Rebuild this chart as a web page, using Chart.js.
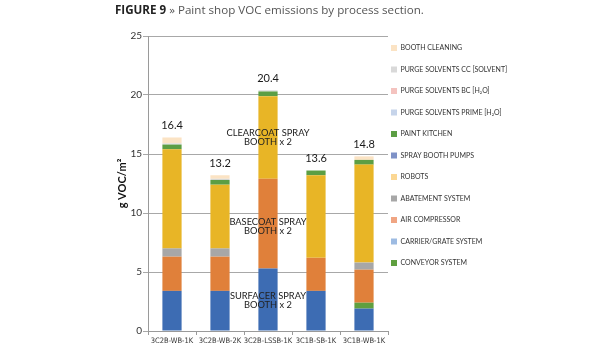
<!DOCTYPE html>
<html>
<head>
<meta charset="utf-8">
<script src="https://cdn.jsdelivr.net/npm/chart.js@4/dist/chart.umd.min.js"></script>
<style>
html,body{margin:0;padding:0;background:#fff;}
#caja{position:relative;width:615px;height:350px;}
#titulo{position:absolute;left:115px;top:2px;font-family:"Open Sans",sans-serif;font-size:11.6px;color:#555;white-space:nowrap;}
#titulo b{color:#222;}
canvas{position:absolute;left:0;top:0;}
</style>
</head>
<body>
<div id="caja">
<canvas id="grafico" width="615" height="350"></canvas>
<div id="titulo"><b>FIGURE 9</b> » Paint shop VOC emissions by process section.</div>
</div>
<script>
//datos
const categorias=['3C2B-WB-1K','3C2B-WB-2K','3C2B-LSSB-1K','3C1B-SB-1K','3C1B-WB-1K'];
const ticksY=[0,5,10,15,20,25];

const surfacer=[3.4,3.4,5.3,3.4,1.9];
const conveyor=[0,0,0,0,0.5];
const carrier=[0,0,0,0,0];
const basecoat=[2.9,2.9,7.6,2.8,2.8];
const airCompressor=[0,0,0,0,0];
const abatement=[0.7,0.7,0,0,0.6];
const clearcoat=[8.4,5.4,7.0,7.0,8.3];
const robots=[0,0,0,0,0];
const pumps=[0,0,0,0,0];
const kitchen=[0.4,0.4,0.4,0.4,0.4];
const purgePrime=[0,0,0,0,0];
const purgeBC=[0,0,0,0,0];
const purgeCC=[0.1,0.1,0.1,0,0];
const boothCleaning=[0.5,0.3,0,0,0.3];

//textos dentro de la barra central (y en unidades del eje)
const anotaciones=[
    {lineas:['CLEARCOAT SPRAY','BOOTH x 2'],y:16.4},
    {lineas:['BASECOAT SPRAY','BOOTH x 2'],y:8.85},
    {lineas:['SURFACER SPRAY','BOOTH x 2'],y:2.6}
];
const indiceAnotado=2;

const fuente='Lato, "Noto Sans", sans-serif';
const fuenteEstrecha='"DejaVu Sans Condensed", Lato, sans-serif';

function serie(label,data,color,enLeyenda)
{
    return {label:label,data:data,backgroundColor:color,borderWidth:0,enLeyenda:enLeyenda};
}

const datasets=[
    serie('SURFACER SPRAY BOOTH x 2',surfacer,'#3d6cb3',false),
    serie('CONVEYOR SYSTEM',conveyor,'#5f9f3f',true),
    serie('CARRIER/GRATE SYSTEM',carrier,'#9dbbe2',true),
    serie('BASECOAT SPRAY BOOTH x 2',basecoat,'#e0803a',false),
    serie('AIR COMPRESSOR',airCompressor,'#f0a583',true),
    serie('ABATEMENT SYSTEM',abatement,'#a7a7a7',true),
    serie('CLEARCOAT SPRAY BOOTH x 2',clearcoat,'#e8b526',false),
    serie('ROBOTS',robots,'#fbd793',true),
    serie('SPRAY BOOTH PUMPS',pumps,'#7f92c7',true),
    serie('PAINT KITCHEN',kitchen,'#5c9e44',true),
    serie('PURGE SOLVENTS PRIME [H₂O]',purgePrime,'#c6d4ea',true),
    serie('PURGE SOLVENTS BC [H₂O]',purgeBC,'#f4c3bf',true),
    serie('PURGE SOLVENTS CC [SOLVENT]',purgeCC,'#d9d9d9',true),
    serie('BOOTH CLEANING',boothCleaning,'#fbe3c4',true)
];

//totales encima de cada barra y textos de las cabinas
const textosExtra={
    id:'textosExtra',
    afterDatasetsDraw(chart)
    {
        const ctx=chart.ctx;
        const x=chart.scales.x;
        const y=chart.scales.y;
        ctx.save();
        ctx.textAlign='center';
        ctx.textBaseline='middle';
        ctx.fillStyle='#1a1a1a';
        ctx.font='11px '+fuente;
        categorias.forEach((c,i)=>
        {
            const total=datasets.reduce((s,d)=>s+d.data[i],0);
            ctx.fillText(total.toFixed(1),x.getPixelForValue(i),y.getPixelForValue(total)-12);
        });
        ctx.font='9.3px '+fuente;
        ctx.fillStyle='#222';
        anotaciones.forEach(a=>
        {
            const cx=x.getPixelForValue(indiceAnotado);
            const cy=y.getPixelForValue(a.y);
            a.lineas.forEach((t,k)=>
            {
                ctx.fillText(t,cx,cy+(k-(a.lineas.length-1)/2)*9);
            });
        });
        ctx.restore();
    }
};

//acomodar la leyenda pegada al area del grafico
const ajusteLeyenda={
    id:'ajusteLeyenda',
    afterLayout(chart)
    {
        const l=chart.legend;
        const pad=l.options.labels.padding;
        l.left=chart.chartArea.right+3-pad;
        l.right=chart.width;
        l.top=chart.chartArea.top-6;
    }
};

document.addEventListener("DOMContentLoaded",function()
{
    new Chart(document.getElementById('grafico'),{
        type:'bar',
        data:{labels:categorias,datasets:datasets},
        plugins:[textosExtra,ajusteLeyenda],
        options:{
            responsive:false,
            animation:false,
            devicePixelRatio:1,
            layout:{padding:{top:36,left:112,right:135,bottom:2}},
            datasets:{bar:{barPercentage:0.8,categoryPercentage:0.5}},
            scales:{
                x:{
                    stacked:true,
                    grid:{display:true,offset:true,drawOnChartArea:false,tickLength:4,color:'#9a9a9a'},
                    border:{color:'#9a9a9a'},
                    ticks:{font:{family:fuenteEstrecha,size:7.5},color:'#333',padding:2,maxRotation:0,autoSkip:false}
                },
                y:{
                    stacked:true,
                    min:0,max:25,
                    afterBuildTicks(scale){scale.ticks=ticksY.map(v=>({value:v}));},
                    afterFit(scale){scale.width=36;},
                    grid:{color:'#a8a8a8',tickLength:5},
                    border:{color:'#9a9a9a'},
                    ticks:{font:{family:fuente,size:10},color:'#333',padding:1},
                    title:{display:true,text:'g VOC/m²',font:{family:fuente,size:11,weight:'bold'},color:'#111'}
                }
            },
            plugins:{
                tooltip:{enabled:false},
                legend:{
                    position:'right',
                    align:'start',
                    reverse:true,
                    labels:{
                        filter:(item,data)=>data.datasets[item.datasetIndex].enLeyenda,
                        boxWidth:6,boxHeight:6,
                        padding:14.5,
                        font:{family:fuente,size:7},
                        color:'#333'
                    }
                }
            }
        }
    });
});
</script>
</body>
</html>
